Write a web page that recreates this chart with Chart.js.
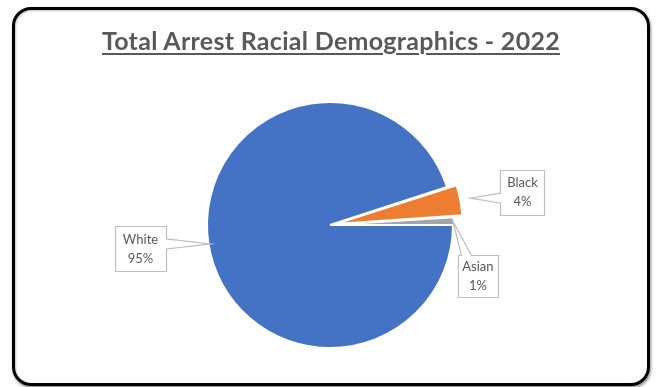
<!DOCTYPE html>
<html lang="en">
<head>
  <meta charset="UTF-8">
  <title>Total Arrest Racial Demographics - 2022</title>
  <script src="https://cdn.jsdelivr.net/npm/chart.js"></script>
  <style>
    html, body { margin: 0; padding: 0; background: #fff; }
    #frame {
      position: absolute; left: 12px; top: 7px; width: 632px; height: 373px;
      border: 3px solid #000; border-radius: 19px;
      box-shadow: 1px 2px 3px rgba(0, 0, 0, 0.45), inset 1px 1px 2px rgba(0, 0, 0, 0.25);
    }
    #title {
      position: absolute; left: 0; top: 25px; width: 662px; text-align: center;
      font: bold 25px "Lato", "Open Sans", sans-serif; color: #595959;
      letter-spacing: 0.3px;
      text-decoration: underline; text-decoration-thickness: 2px; text-underline-offset: 3px;
    }
    #wrap { position: absolute; left: 0; top: 0; width: 656px; height: 387px; }
  </style>
</head>
<body>
  <div id="frame"></div>
  <div id="wrap"><canvas id="pie"></canvas></div>
  <div id="title">Total Arrest Racial Demographics - 2022</div>

  <script>
    // Racial breakdown of arrests, percent
    const races = ['White', 'Black', 'Asian'];
    const percents = [95, 4, 1];
    const sliceColors = ['#4472C4', '#ED7D31', '#A5A5A5'];

    // builds a box outline with a wedge pointing at (tx, ty)
    function calloutPath(ctx, x, y, w, h, tx, ty) {
      const half = 5;
      const clamp = (v, a, b) => Math.max(a, Math.min(b, v));
      const outX = tx < x ? x - tx : (tx > x + w ? tx - x - w : 0);
      const outY = ty < y ? y - ty : (ty > y + h ? ty - y - h : 0);
      let side;
      if (outX >= outY) side = tx < x ? 'left' : 'right';
      else side = ty < y ? 'top' : 'bottom';
      const cx = clamp(tx, x + half + 3, x + w - half - 3);
      const cy = clamp(ty, y + half + 3, y + h - half - 3);

      ctx.beginPath();
      ctx.moveTo(x, y);
      if (side === 'top') { ctx.lineTo(cx - half, y); ctx.lineTo(tx, ty); ctx.lineTo(cx + half, y); }
      ctx.lineTo(x + w, y);
      if (side === 'right') { ctx.lineTo(x + w, cy - half); ctx.lineTo(tx, ty); ctx.lineTo(x + w, cy + half); }
      ctx.lineTo(x + w, y + h);
      if (side === 'bottom') { ctx.lineTo(cx + half, y + h); ctx.lineTo(tx, ty); ctx.lineTo(cx - half, y + h); }
      ctx.lineTo(x, y + h);
      if (side === 'left') { ctx.lineTo(x, cy + half); ctx.lineTo(tx, ty); ctx.lineTo(x, cy - half); }
      ctx.closePath();
    }

    const calloutLabels = {
      id: 'calloutLabels',
      afterDatasetsDraw(chart, args, opts) {
        const ctx = chart.ctx;
        const meta = chart.getDatasetMeta(0);
        const ds = chart.data.datasets[0];
        ctx.save();
        meta.data.forEach((arc, i) => {
          const mid = (arc.startAngle + arc.endAngle) / 2;
          const r = arc.outerRadius + (arc.options.offset || 0) - 2;
          const tx = arc.x + Math.cos(mid) * r;
          const ty = arc.y + Math.sin(mid) * r;
          const [w, h] = opts.sizes[i];
          const [dx, dy] = opts.shift[i];
          const bx = tx + dx - w / 2;
          const by = ty + dy - h / 2;

          calloutPath(ctx, Math.round(bx) + 0.5, Math.round(by) + 0.5, w, h, tx, ty);
          ctx.fillStyle = '#fff';
          ctx.fill();
          ctx.strokeStyle = '#BFBFBF';
          ctx.lineWidth = 1.2;
          ctx.stroke();

          ctx.fillStyle = '#595959';
          ctx.font = '13px "Lato", "Open Sans", sans-serif';
          ctx.textAlign = 'center';
          ctx.textBaseline = 'middle';
          ctx.fillText(chart.data.labels[i], tx + dx, ty + dy - 9);
          ctx.fillText(ds.data[i] + '%', tx + dx, ty + dy + 10);
        });
        ctx.restore();
      }
    };

    new Chart(document.getElementById('pie'), {
      type: 'pie',
      data: {
        labels: races,
        datasets: [{
          data: percents,
          backgroundColor: sliceColors,
          borderColor: '#fff',
          borderWidth: 2,
          offset: [0, 22, 2],
          radius: 123
        }]
      },
      options: {
        responsive: true,
        maintainAspectRatio: false,
        animation: false,
        rotation: 90,
        layout: { padding: { left: 180, right: 176, top: 75, bottom: 12 } },
        plugins: {
          legend: { display: false },
          tooltip: { enabled: false },
          calloutLabels: {
            sizes: [[51, 45], [44, 45], [40, 42]],
            shift: [[-70, 5], [52, -6], [25, 55]]
          }
        }
      },
      plugins: [calloutLabels]
    });
  </script>
</body>
</html>
